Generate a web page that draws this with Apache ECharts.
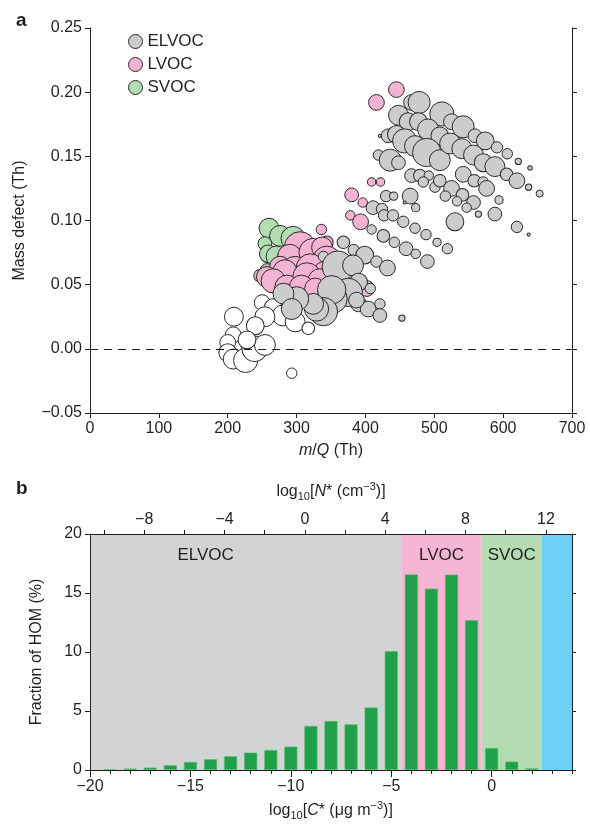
<!DOCTYPE html>
<html><head><meta charset="utf-8">
<script src="https://cdn.jsdelivr.net/npm/echarts@6/dist/echarts.min.js"></script>
<style>html,body{margin:0;padding:0;background:#fff}#c{width:590px;height:827px}</style>
</head><body><div id="c"></div>
<script>
// ---------- Panel a: mass defect vs m/Q, [m/Q (Th), mass defect (Th), relative signal] ----------
const whiteBubbles = [
  [209,0.025,36],[293,-0.019,11],[250,0.036,25],[266,0.032,32],[280,0.026,44],[298,0.021,40],
  [317,0.016,16],[254,0.025,40],[240,0.018,32],[208,0.011,25],[200,0.005,25],[200,-0.003,32],
  [208,-0.008,40],[226,-0.009,59],[239,0.000,64],[254,0.003,44],[228,0.007,32]
];
const svocBubbles = [
  [260,0.094,40],[276,0.088,44],[295,0.086,59],[254,0.082,19],[259,0.074,32],[271,0.072,44],
  [247,0.057,16],[257,0.061,19]
];
const lvocBubbles = [
  [445,0.202,25],[416,0.192,25],[409,0.130,7],[422,0.130,7],[380,0.120,19],[396,0.114,9],
  [378,0.104,9],[393,0.099,25],[336,0.093,11],[344,0.083,16],
  [305,0.079,100],[290,0.072,59],[324,0.075,81],[337,0.079,44],[344,0.069,81],[276,0.064,44],
  [298,0.061,81],[320,0.063,81],[283,0.060,59],[339,0.061,32],[257,0.056,44],[266,0.053,59],
  [315,0.056,81],[334,0.053,59],[286,0.048,59],[307,0.048,59],[327,0.047,44],[402,0.047,25]
];
const elvocBubbles = [
  [467,0.192,25],[478,0.192,49],[448,0.182,40],[462,0.177,32],[477,0.177,32],[511,0.183,59],
  [525,0.177,25],[491,0.171,44],[508,0.166,32],[542,0.173,49],[559,0.166,19],[574,0.162,32],
  [591,0.157,13],[606,0.152,11],[622,0.146,4],[639,0.141,2],
  [421,0.166,1],[433,0.166,19],[445,0.167,32],[457,0.162,59],[472,0.158,44],[489,0.153,81],
  [508,0.147,44],[523,0.160,44],[540,0.156,40],[557,0.151,40],[571,0.145,32],[588,0.142,40],
  [605,0.136,16],[620,0.131,25],[637,0.126,4],[653,0.121,5],
  [419,0.151,11],[436,0.147,49],[448,0.145,19],[467,0.135,19],[479,0.135,16],[492,0.135,9],
  [484,0.130,11],[501,0.126,11],[508,0.131,16],[525,0.125,25],[542,0.136,25],[558,0.131,16],
  [571,0.130,11],[576,0.125,25],[541,0.120,16],[533,0.115,9],[557,0.114,19],[547,0.110,9],
  [564,0.105,4],[530,0.099,32],[588,0.105,19],[594,0.116,7],[620,0.095,13],[637,0.089,1],
  [516,0.119,11],
  [430,0.119,13],[441,0.119,7],[465,0.119,25],[457,0.114,1],[473,0.110,7],[411,0.110,19],
  [424,0.109,13],[427,0.104,13],[440,0.104,13],[455,0.099,13],[472,0.094,11],[488,0.089,11],
  [504,0.083,7],[519,0.078,11],
  [409,0.093,9],[426,0.088,16],[442,0.083,11],[459,0.078,19],[473,0.074,9],[490,0.068,19],
  [368,0.083,16],[383,0.077,13],[399,0.073,32],[416,0.068,13],[432,0.063,25],
  [339,0.072,11],[360,0.064,100],[382,0.065,44],[390,0.052,32],[375,0.044,81],[353,0.039,81],
  [351,0.046,81],[339,0.029,81],[329,0.031,59],[324,0.035,44],[300,0.039,59],[281,0.043,44],
  [293,0.031,44],[390,0.035,25],[404,0.031,25],[421,0.035,11],[421,0.026,19],[453,0.024,4],
  [407,0.047,11],[387,0.038,25]
];
const legendNames = ['ELVOC','LVOC','SVOC'];
const yTicksA = [-0.05,0,0.05,0.10,0.15,0.20,0.25];
const xTicksA = [0,100,200,300,400,500,600,700];

// ---------- Panel b: fraction of HOM vs log10 C* ----------
const logC = [-19,-18,-17,-16,-15,-14,-13,-12,-11,-10,-9,-8,-7,-6,-5,-4,-3,-2,-1,0,1,2];
const fracHOM = [0.05,0.12,0.2,0.4,0.68,0.91,1.16,1.47,1.69,1.98,3.73,4.15,3.87,5.29,10.06,16.58,15.37,16.55,12.69,1.86,0.71,0.14];
const classBounds = [-20,-4.5,-0.5,2.5,4];
const classNames = ['ELVOC','LVOC','SVOC',''];
const cMajorTicks = [-20,-15,-10,-5,0];
const cMinorTicks = [-19,-18,-17,-16,-14,-13,-12,-11,-9,-8,-7,-6,-4,-3,-2,-1,1,2,3,4];
const nOffset = 9.3; // log10 N* = log10 C* + offset
const nTicks = [-10,-8,-6,-4,-2,0,2,4,6,8,10,12];
const nLabels = [-8,-4,0,4,8,12];
const yTicksB = [0,5,10,15,20];

const INK = '#231f20';
const FONT = 'Liberation Sans, Arial, Helvetica, sans-serif';
const FS = 16;
const minus = v => String(v).replace('-', '\u2212');
const classColors = ['#d1d3d4','#f5b5d5','#b3dcb3','#6dcff6'];
const bubbleSize = v => 3.15 * Math.sqrt(v[2]);

const chart = echarts.init(document.getElementById('c'), null, {renderer:'canvas'});
const baseLabel = {color: INK, fontFamily: FONT, fontSize: FS};
const nameStyle = {color: INK, fontFamily: FONT, fontSize: FS};
const richSub = {
  s: {fontSize: 11, fontFamily: FONT, color: INK, verticalAlign: 'bottom', padding:[10,0,0,0]},
  p: {fontSize: 11, fontFamily: FONT, color: INK, verticalAlign: 'top', padding:[0,0,8,0]},
  i: {fontSize: FS, fontFamily: FONT, color: INK, fontStyle: 'italic'},
  n: {fontSize: FS, fontFamily: FONT, color: INK}
};
const lineStyle = {color: INK, width: 1};

const bubbleStyle = c => ({color: c, borderColor: '#2a2a2a', borderWidth: 1, opacity: 1});

const markAreaData = classNames.map((n, i) => [
  {xAxis: classBounds[i], itemStyle: {color: classColors[i]},
   label: {show: !!n, formatter: n, position: 'insideTop', distance: 13,
           offset: i === 0 ? [-40, 0] : [0, 0],
           color: INK, fontFamily: FONT, fontSize: 17}},
  {xAxis: classBounds[i+1]}
]);

const option = {
  animation: false,
  title: [
    {text: 'a', left: 11, top: 6, textStyle: {fontFamily: FONT, fontSize: 19, fontWeight: 'bold', color: INK}},
    {text: 'b', left: 11, top: 474, textStyle: {fontFamily: FONT, fontSize: 19, fontWeight: 'bold', color: INK}}
  ],
  legend: {
    data: legendNames, orient: 'vertical', left: 123, top: 28, itemGap: 6,
    itemWidth: 14, itemHeight: 14, icon: 'circle',
    itemStyle: {borderWidth: 1, borderColor: '#2a2a2a'},
    textStyle: {color: INK, fontFamily: FONT, fontSize: 17}, selectedMode: false
  },
  grid: [
    {left: 90, top: 28, width: 482, height: 385},
    {left: 90, top: 534, width: 482, height: 236}
  ],
  xAxis: [
    {gridIndex: 0, type: 'value', min: 0, max: 700, interval: 100, position: 'bottom',
     axisLine: {show: true, onZero: false, lineStyle},
     axisTick: {show: true, length: 5, lineStyle}, splitLine: {show: false},
     axisLabel: Object.assign({margin: 8}, baseLabel),
     name: '{i|m}/{i|Q} (Th)', nameLocation: 'middle', nameGap: 30,
     nameTextStyle: Object.assign({rich: richSub}, nameStyle)},
    {gridIndex: 1, type: 'value', min: classBounds[0], max: classBounds[4], position: 'bottom', z: 10,
     axisLine: {show: true, onZero: false, lineStyle},
     axisTick: {show: true, length: 7, lineStyle, customValues: cMajorTicks},
     splitLine: {show: false},
     axisLabel: Object.assign({margin: 9, customValues: cMajorTicks, formatter: minus}, baseLabel),
     name: 'log{s|10}[{i|C}* (μg m{p|−3})]', nameLocation: 'middle', nameGap: 30,
     nameTextStyle: Object.assign({rich: richSub}, nameStyle)},
    {gridIndex: 1, type: 'value', min: classBounds[0], max: classBounds[4], position: 'bottom', z: 10,
     axisLine: {show: false, onZero: false},
     axisTick: {show: true, length: 4, lineStyle, customValues: cMinorTicks},
     splitLine: {show: false}, axisLabel: {show: false}},
    {gridIndex: 1, type: 'value', min: classBounds[0] + nOffset, max: classBounds[4] + nOffset, position: 'top', z: 10,
     axisLine: {show: true, onZero: false, lineStyle},
     axisTick: {show: true, length: 4, lineStyle, customValues: nTicks},
     splitLine: {show: false},
     axisLabel: Object.assign({margin: 6, customValues: nLabels, formatter: minus}, baseLabel),
     name: 'log{s|10}[{i|N}* (cm{p|−3})]', nameLocation: 'middle', nameGap: 32,
     nameTextStyle: Object.assign({rich: richSub}, nameStyle)}
  ],
  yAxis: [
    {gridIndex: 0, type: 'value', min: yTicksA[0], max: yTicksA[yTicksA.length-1], interval: 0.05, position: 'left',
     axisLine: {show: true, onZero: false, lineStyle},
     axisTick: {show: true, length: 5, lineStyle}, splitLine: {show: false},
     axisLabel: Object.assign({margin: 8, formatter: v => minus(v.toFixed(2))}, baseLabel),
     name: 'Mass defect (Th)', nameLocation: 'middle', nameGap: 62, nameTextStyle: nameStyle},
    {gridIndex: 0, type: 'value', min: yTicksA[0], max: yTicksA[yTicksA.length-1], interval: 0.05, position: 'right',
     axisLine: {show: true, onZero: false, lineStyle},
     axisTick: {show: true, length: 5, lineStyle}, splitLine: {show: false},
     axisLabel: {show: false}},
    {gridIndex: 1, type: 'value', min: 0, max: 20, interval: 5, position: 'left', z: 10,
     axisLine: {show: true, onZero: false, lineStyle},
     axisTick: {show: true, length: 5, lineStyle}, splitLine: {show: false},
     axisLabel: Object.assign({margin: 8}, baseLabel),
     name: 'Fraction of HOM (%)', nameLocation: 'middle', nameGap: 45, nameTextStyle: nameStyle},
    {gridIndex: 1, type: 'value', min: 0, max: 20, interval: 5, position: 'right', z: 10,
     axisLine: {show: true, onZero: false, lineStyle},
     axisTick: {show: true, length: 4, lineStyle}, splitLine: {show: false},
     axisLabel: {show: false}}
  ],
  series: [
    {name: 'other', type: 'scatter', xAxisIndex: 0, yAxisIndex: 0, data: whiteBubbles,
     symbolSize: bubbleSize, itemStyle: bubbleStyle('#ffffff'), emphasis: {disabled: true},
     markLine: {silent: true, symbol: ['none','none'], label: {show: false},
       lineStyle: {color: INK, width: 1, type: [8, 6]}, data: [{yAxis: 0}]}},
    {name: 'SVOC', type: 'scatter', xAxisIndex: 0, yAxisIndex: 0, data: svocBubbles,
     symbolSize: bubbleSize, itemStyle: bubbleStyle('#b2dcb1'), emphasis: {disabled: true}},
    {name: 'LVOC', type: 'scatter', xAxisIndex: 0, yAxisIndex: 0, data: lvocBubbles,
     symbolSize: bubbleSize, itemStyle: bubbleStyle('#f5b3d3'), emphasis: {disabled: true}},
    {name: 'ELVOC', type: 'scatter', xAxisIndex: 0, yAxisIndex: 0, data: elvocBubbles,
     symbolSize: bubbleSize, itemStyle: bubbleStyle('#cbcccd'), emphasis: {disabled: true}},
    {name: 'frac', type: 'bar', xAxisIndex: 1, yAxisIndex: 2,
     data: logC.map((c, i) => [c, fracHOM[i]]), barWidth: 13,
     itemStyle: {color: '#21a04a', borderColor: '#5dbb6f', borderWidth: 0.6},
     emphasis: {disabled: true},
     markArea: {silent: true, data: markAreaData}}
  ]
};
chart.setOption(option);
</script></body></html>
